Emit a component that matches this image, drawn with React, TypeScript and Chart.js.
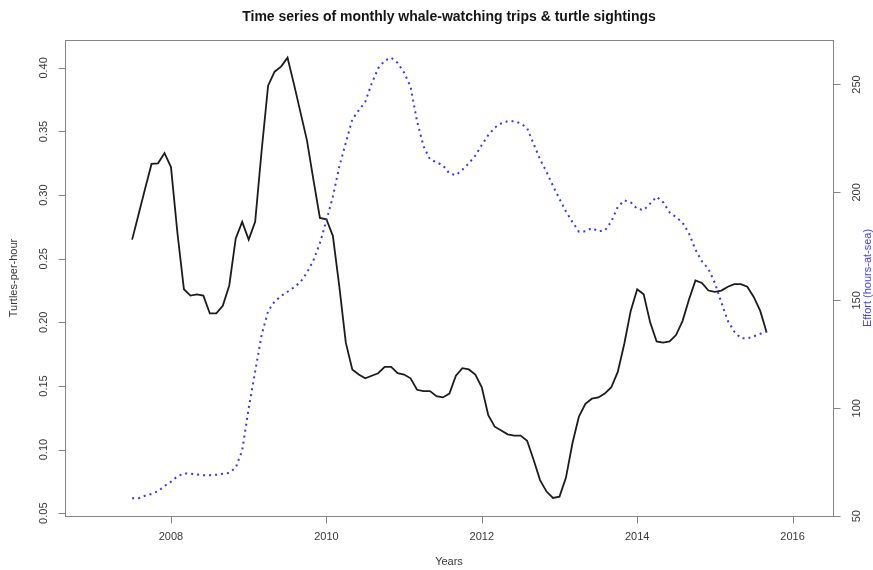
import React, { useEffect, useRef } from "react";
import { Chart, registerables } from "chart.js";

Chart.register(...registerables);

// Monthly series, July 2007 through September 2015
const FIRST_MONTH = 2007.5;

const turtlesPerHour = [
  0.265, 0.285, 0.305, 0.3245, 0.325, 0.333, 0.322, 0.27, 0.226, 0.221, 0.222, 0.221,
  0.207, 0.207, 0.213, 0.229, 0.266, 0.279, 0.265, 0.279, 0.335, 0.386, 0.397, 0.401,
  0.408, 0.387, 0.365, 0.343, 0.312, 0.282, 0.281, 0.268, 0.228, 0.184, 0.163, 0.159,
  0.156, 0.158, 0.16, 0.165, 0.165, 0.16, 0.159, 0.156, 0.147, 0.146, 0.146, 0.142,
  0.141, 0.144, 0.158, 0.164, 0.163, 0.159, 0.149, 0.127, 0.118, 0.115, 0.112, 0.111,
  0.111, 0.107, 0.092, 0.076, 0.067, 0.062, 0.063, 0.078, 0.105, 0.126, 0.136, 0.14,
  0.141, 0.144, 0.149, 0.161, 0.183, 0.209, 0.226, 0.222, 0.2, 0.185, 0.184, 0.185,
  0.19, 0.201, 0.218, 0.233, 0.231, 0.225, 0.224, 0.225, 0.228, 0.23, 0.23, 0.228,
  0.22, 0.209, 0.192,
];

const effortHours = [
  58.3, 58.3, 59.5, 60.3, 61.6, 64.0, 66.0, 68.5, 69.8, 69.7, 69.3, 69.0,
  69.0, 69.2, 69.7, 70.1, 72.5, 80.5, 100, 117, 134, 145, 149.5, 152,
  154, 156, 158.5, 162.8, 168.5, 176.5, 187, 198, 212, 223, 233.8, 238,
  242, 250.5, 257.5, 261, 262.4, 260, 255.5, 249, 233, 221.4, 215.3, 214,
  212.5, 208.8, 208, 210.5, 213.5, 217, 222, 226.5, 230, 232, 233, 233,
  232, 229.8, 222.5, 215.3, 209.5, 203, 197, 191.2, 186.3, 181.8, 182, 183.5,
  182, 182.3, 186.5, 193.3, 196.3, 195.4, 192.4, 191.8, 194.8, 198, 195.5, 190.8,
  188.5, 186, 181, 173.5, 168, 164.6, 158, 149, 140.5, 135.5, 132.5, 132.3,
  133.3, 134.5, 135.8,
];

const yearTicks = [2008, 2010, 2012, 2014, 2016];
const turtleTicks = [0.05, 0.1, 0.15, 0.2, 0.25, 0.3, 0.35, 0.4];
const turtleTickLabels = ["0.05", "0.10", "0.15", "0.20", "0.25", "0.30", "0.35", "0.40"];
const effortTicks = [50, 100, 150, 200, 250];

const TITLE = "Time series of monthly whale-watching trips & turtle sightings";
const X_TITLE = "Years";
const Y_TITLE = "Turtles-per-hour";
const Y2_TITLE = "Effort (hours-at-sea)";

const FONT = '"Liberation Sans", Arial, sans-serif';
const TEXT = "#383838";
const FRAME = "#858585";

// Base-graphics style frame, axes, tick labels and titles
const framePlugin = {
  id: "baseFrame",
  afterDraw(chart: any) {
    const { ctx, chartArea: a, scales } = chart;
    const x = scales.x;
    const y = scales.y;
    const y1 = scales.y1;
    const tick = 7;
    ctx.save();
    ctx.strokeStyle = FRAME;
    ctx.lineWidth = 1;
    ctx.strokeRect(Math.round(a.left) + 0.5, Math.round(a.top) + 0.5,
      Math.round(a.right - a.left), Math.round(a.bottom - a.top));

    ctx.font = `11px ${FONT}`;
    ctx.fillStyle = TEXT;

    // bottom axis
    const xb = Math.round(a.bottom) + 0.5;
    ctx.beginPath();
    ctx.moveTo(x.getPixelForValue(yearTicks[0]), xb);
    ctx.lineTo(x.getPixelForValue(yearTicks[yearTicks.length - 1]), xb);
    yearTicks.forEach((t) => {
      const px = Math.round(x.getPixelForValue(t)) + 0.5;
      ctx.moveTo(px, xb);
      ctx.lineTo(px, xb + tick);
    });
    ctx.stroke();
    ctx.textAlign = "center";
    ctx.textBaseline = "middle";
    yearTicks.forEach((t) => {
      ctx.fillText(String(t), x.getPixelForValue(t), a.bottom + 21);
    });

    // left axis
    const xl = Math.round(a.left) + 0.5;
    ctx.beginPath();
    ctx.moveTo(xl, y.getPixelForValue(turtleTicks[0]));
    ctx.lineTo(xl, y.getPixelForValue(turtleTicks[turtleTicks.length - 1]));
    turtleTicks.forEach((t) => {
      const py = Math.round(y.getPixelForValue(t)) + 0.5;
      ctx.moveTo(xl, py);
      ctx.lineTo(xl - tick, py);
    });
    ctx.stroke();
    turtleTicks.forEach((t, i) => {
      ctx.save();
      ctx.translate(a.left - 21, y.getPixelForValue(t));
      ctx.rotate(-Math.PI / 2);
      ctx.fillText(turtleTickLabels[i], 0, 0);
      ctx.restore();
    });

    // right axis
    const xr = Math.round(a.right) + 0.5;
    ctx.beginPath();
    ctx.moveTo(xr, y1.getPixelForValue(effortTicks[0]));
    ctx.lineTo(xr, y1.getPixelForValue(effortTicks[effortTicks.length - 1]));
    effortTicks.forEach((t) => {
      const py = Math.round(y1.getPixelForValue(t)) + 0.5;
      ctx.moveTo(xr, py);
      ctx.lineTo(xr + tick, py);
    });
    ctx.stroke();
    effortTicks.forEach((t) => {
      ctx.save();
      ctx.translate(a.right + 24, y1.getPixelForValue(t));
      ctx.rotate(-Math.PI / 2);
      ctx.fillText(String(t), 0, 0);
      ctx.restore();
    });

    // titles
    const midX = (a.left + a.right) / 2;
    const midY = (a.top + a.bottom) / 2;
    ctx.fillText(X_TITLE, midX, a.bottom + 46);
    ctx.save();
    ctx.translate(14, midY);
    ctx.rotate(-Math.PI / 2);
    ctx.fillText(Y_TITLE, 0, 0);
    ctx.restore();
    ctx.save();
    ctx.fillStyle = "#4040ff";
    ctx.translate(a.right + 35, midY);
    ctx.rotate(-Math.PI / 2);
    ctx.fillText(Y2_TITLE, 0, 0);
    ctx.restore();

    ctx.font = `bold 14px ${FONT}`;
    ctx.fillStyle = "#151515";
    ctx.fillText(TITLE, midX, 17);
    ctx.restore();
  },
};

export default function App() {
  const canvasRef = useRef<HTMLCanvasElement | null>(null);

  useEffect(() => {
    const canvas = canvasRef.current;
    if (!canvas) return;
    const months = turtlesPerHour.map((_, i) => FIRST_MONTH + i / 12);
    const chart = new Chart(canvas, {
      type: "line",
      data: {
        datasets: [
          {
            label: Y2_TITLE,
            data: effortHours.map((v, i) => ({ x: months[i], y: v })),
            yAxisID: "y1",
            borderColor: "#3535ff",
            borderWidth: 2,
            borderDash: [2, 4],
            borderCapStyle: "butt",
            pointRadius: 0,
            tension: 0,
            fill: false,
          },
          {
            label: Y_TITLE,
            data: turtlesPerHour.map((v, i) => ({ x: months[i], y: v })),
            yAxisID: "y",
            borderColor: "#1c1c1c",
            borderWidth: 1.8,
            pointRadius: 0,
            tension: 0,
            fill: false,
          },
        ],
      },
      options: {
        responsive: false,
        animation: false,
        layout: { padding: { left: 65, right: 40, top: 40, bottom: 54 } },
        plugins: {
          legend: { display: false },
          title: { display: false },
          tooltip: { enabled: false },
        },
        scales: {
          x: { type: "linear", display: false, min: 2006.636, max: 2016.52 },
          y: { type: "linear", display: false, min: 0.0478, max: 0.4219 },
          y1: { type: "linear", display: false, position: "right", min: 50.1, max: 270.6 },
        },
      },
      plugins: [framePlugin],
    });
    return () => chart.destroy();
  }, []);

  return (
    <div style={{ position: "absolute", left: 0, top: 0, width: 873, height: 570, background: "#fff" }}>
      <canvas ref={canvasRef} width={873} height={570} style={{ display: "block" }} />
    </div>
  );
}
